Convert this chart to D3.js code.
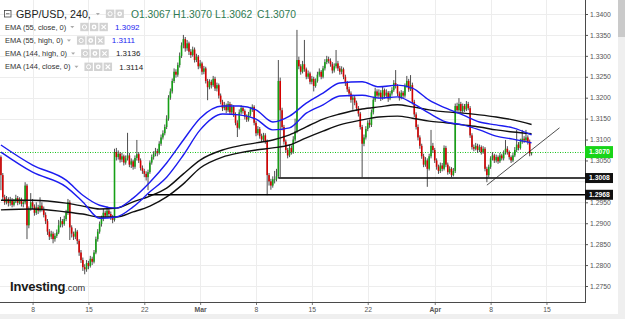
<!DOCTYPE html>
<html>
<head>
<meta charset="utf-8">
<script src="https://cdn.jsdelivr.net/npm/d3@7"></script>
<style>
  body { margin: 0; background: #fff; }
  svg { display: block; font-family: "Liberation Sans", Arial, sans-serif; }
</style>
</head>
<body>
<div class="chart"></div>
<script>
// GBP/USD 4h candles
const opens = [
  1.3058, 1.3015, 1.2962, 1.2950, 1.2958, 1.2948, 1.2955, 1.2944, 1.2952, 1.2960,
  1.2949, 1.2957, 1.2946, 1.2950, 1.2990, 1.2895, 1.2935, 1.2950, 1.2940, 1.2925,
  1.2938, 1.2930, 1.2942, 1.2934, 1.2920, 1.2905, 1.2880, 1.2868, 1.2875, 1.2862,
  1.2870, 1.2878, 1.2895, 1.2905, 1.2898, 1.2910, 1.2925, 1.2950, 1.2890, 1.2875,
  1.2868, 1.2880, 1.2858, 1.2830, 1.2812, 1.2795, 1.2790, 1.2805, 1.2798, 1.2815,
  1.2808, 1.2830, 1.2862, 1.2880, 1.2898, 1.2910, 1.2925, 1.2918, 1.2930, 1.2922,
  1.2915, 1.2908, 1.3070, 1.3058, 1.3066, 1.3052, 1.3060, 1.3045, 1.3055, 1.3062,
  1.3040, 1.3048, 1.3035, 1.3056, 1.3065, 1.3050, 1.3032, 1.3025, 1.3018, 1.3010,
  1.3022, 1.3045, 1.3058, 1.3066, 1.3072, 1.3068, 1.3090, 1.3105, 1.3115, 1.3130,
  1.3150, 1.3200, 1.3215, 1.3240, 1.3262, 1.3255, 1.3278, 1.3300, 1.3325, 1.3340,
  1.3318, 1.3330, 1.3310, 1.3302, 1.3315, 1.3290, 1.3298, 1.3275, 1.3282, 1.3262,
  1.3270, 1.3240, 1.3225, 1.3238, 1.3230, 1.3245, 1.3222, 1.3230, 1.3205, 1.3190,
  1.3175, 1.3182, 1.3170, 1.3185, 1.3165, 1.3178, 1.3160, 1.3140, 1.3128, 1.3165,
  1.3175, 1.3168, 1.3155, 1.3148, 1.3160, 1.3172, 1.3178, 1.3140, 1.3115, 1.3125,
  1.3108, 1.3100, 1.3110, 1.3095, 1.3015, 1.3000, 1.2990, 1.3005, 1.3005, 1.3012,
  1.3240, 1.3170, 1.3130, 1.3095, 1.3075, 1.3062, 1.3080, 1.3070, 1.3100, 1.3120,
  1.3290, 1.3275, 1.3262, 1.3280, 1.3268, 1.3250, 1.3258, 1.3238, 1.3245, 1.3228,
  1.3240, 1.3255, 1.3262, 1.3250, 1.3270, 1.3285, 1.3292, 1.3288, 1.3280, 1.3265,
  1.3275, 1.3282, 1.3270, 1.3262, 1.3268, 1.3250, 1.3235, 1.3220, 1.3210, 1.3195,
  1.3200, 1.3188, 1.3175, 1.3162, 1.3130, 1.3090, 1.3105, 1.3125, 1.3140, 1.3135,
  1.3165, 1.3195, 1.3215, 1.3205, 1.3212, 1.3200, 1.3218, 1.3205, 1.3212, 1.3198,
  1.3210, 1.3218, 1.3235, 1.3228, 1.3210, 1.3200, 1.3212, 1.3205, 1.3228, 1.3240,
  1.3220, 1.3230, 1.3190, 1.3160, 1.3130, 1.3105, 1.3085, 1.3060, 1.3040, 1.3050,
  1.3030, 1.3060, 1.3085, 1.3075, 1.3050, 1.3035, 1.3025, 1.3038, 1.3030, 1.3080,
  1.3040, 1.3022, 1.3030, 1.3015, 1.3025, 1.3180, 1.3170, 1.3185, 1.3168, 1.3180,
  1.3172, 1.3185, 1.3175, 1.3110, 1.3082, 1.3078, 1.3085, 1.3075, 1.3082, 1.3070,
  1.3078, 1.3030, 1.3015, 1.3035, 1.3055, 1.3062, 1.3050, 1.3058, 1.3048, 1.3062,
  1.3055, 1.3068, 1.3078, 1.3070, 1.3058, 1.3050, 1.3062, 1.3075, 1.3088, 1.3080,
  1.3095, 1.3102, 1.3098, 1.3105, 1.3095, 1.3067
];
const highs = [
  1.3062, 1.3020, 1.2968, 1.2965, 1.2962, 1.2963, 1.2960, 1.2958, 1.2968, 1.2965,
  1.2962, 1.2961, 1.2956, 1.2998, 1.2994, 1.2940, 1.2972, 1.2958, 1.2945, 1.2950,
  1.2944, 1.2962, 1.2950, 1.2940, 1.2926, 1.2910, 1.2886, 1.2882, 1.2880, 1.2876,
  1.2885, 1.2908, 1.2915, 1.2910, 1.2918, 1.2932, 1.2958, 1.2955, 1.2895, 1.2880,
  1.2888, 1.2884, 1.2862, 1.2836, 1.2818, 1.2802, 1.2812, 1.2810, 1.2822, 1.2820,
  1.2836, 1.2868, 1.2886, 1.2904, 1.2918, 1.2934, 1.2930, 1.2940, 1.2936, 1.2928,
  1.2920, 1.3078, 1.3080, 1.3074, 1.3070, 1.3068, 1.3064, 1.3062, 1.3116, 1.3068,
  1.3055, 1.3052, 1.3062, 1.3099, 1.3070, 1.3055, 1.3038, 1.3030, 1.3024, 1.3028,
  1.3050, 1.3064, 1.3072, 1.3080, 1.3078, 1.3096, 1.3112, 1.3122, 1.3136, 1.3158,
  1.3206, 1.3222, 1.3246, 1.3270, 1.3268, 1.3284, 1.3308, 1.3332, 1.3350, 1.3345,
  1.3338, 1.3334, 1.3316, 1.3322, 1.3320, 1.3305, 1.3302, 1.3290, 1.3286, 1.3276,
  1.3274, 1.3245, 1.3244, 1.3243, 1.3252, 1.3250, 1.3236, 1.3234, 1.3210, 1.3195,
  1.3190, 1.3186, 1.3192, 1.3190, 1.3185, 1.3182, 1.3165, 1.3146, 1.3172, 1.3182,
  1.3180, 1.3172, 1.3160, 1.3166, 1.3178, 1.3184, 1.3182, 1.3145, 1.3132, 1.3130,
  1.3114, 1.3116, 1.3115, 1.3100, 1.3020, 1.3006, 1.3012, 1.3025, 1.3030, 1.3290,
  1.3248, 1.3176, 1.3135, 1.3100, 1.3080, 1.3088, 1.3086, 1.3108, 1.3150, 1.3362,
  1.3298, 1.3280, 1.3288, 1.3338, 1.3272, 1.3265, 1.3262, 1.3252, 1.3250, 1.3246,
  1.3262, 1.3270, 1.3266, 1.3276, 1.3292, 1.3300, 1.3298, 1.3294, 1.3285, 1.3282,
  1.3314, 1.3288, 1.3276, 1.3275, 1.3272, 1.3255, 1.3240, 1.3226, 1.3215, 1.3207,
  1.3205, 1.3193, 1.3180, 1.3166, 1.3135, 1.3112, 1.3132, 1.3146, 1.3148, 1.3172,
  1.3202, 1.3224, 1.3220, 1.3220, 1.3218, 1.3226, 1.3222, 1.3220, 1.3216, 1.3216,
  1.3225, 1.3242, 1.3266, 1.3232, 1.3215, 1.3218, 1.3216, 1.3234, 1.3252, 1.3245,
  1.3254, 1.3236, 1.3195, 1.3165, 1.3136, 1.3110, 1.3090, 1.3066, 1.3058, 1.3055,
  1.3066, 1.3123, 1.3092, 1.3080, 1.3055, 1.3040, 1.3045, 1.3044, 1.3086, 1.3085,
  1.3045, 1.3036, 1.3034, 1.3032, 1.3186, 1.3188, 1.3199, 1.3190, 1.3186, 1.3185,
  1.3192, 1.3190, 1.3180, 1.3115, 1.3088, 1.3092, 1.3090, 1.3088, 1.3086, 1.3084,
  1.3082, 1.3035, 1.3040, 1.3060, 1.3070, 1.3066, 1.3064, 1.3062, 1.3068, 1.3066,
  1.3074, 1.3099, 1.3084, 1.3074, 1.3062, 1.3068, 1.3082, 1.3123, 1.3094, 1.3102,
  1.3123, 1.3108, 1.3123, 1.3110, 1.3100, 1.3070
];
const lows = [
  1.2979, 1.2955, 1.2944, 1.2945, 1.2940, 1.2942, 1.2938, 1.2940, 1.2948, 1.2943,
  1.2945, 1.2940, 1.2938, 1.2945, 1.2862, 1.2888, 1.2930, 1.2934, 1.2918, 1.2920,
  1.2922, 1.2926, 1.2928, 1.2914, 1.2898, 1.2872, 1.2860, 1.2862, 1.2852, 1.2856,
  1.2865, 1.2874, 1.2890, 1.2890, 1.2894, 1.2905, 1.2920, 1.2860, 1.2866, 1.2860,
  1.2862, 1.2850, 1.2822, 1.2805, 1.2786, 1.2778, 1.2784, 1.2790, 1.2794, 1.2800,
  1.2804, 1.2826, 1.2856, 1.2875, 1.2892, 1.2905, 1.2912, 1.2914, 1.2915, 1.2908,
  1.2900, 1.2904, 1.3050, 1.3052, 1.3045, 1.3046, 1.3038, 1.3040, 1.3050, 1.3034,
  1.3032, 1.3028, 1.3030, 1.3050, 1.3044, 1.3026, 1.3018, 1.3010, 1.3002, 1.2979,
  1.3018, 1.3040, 1.3052, 1.3060, 1.3060, 1.3064, 1.3085, 1.3100, 1.3110, 1.3125,
  1.3145, 1.3195, 1.3210, 1.3235, 1.3248, 1.3250, 1.3272, 1.3295, 1.3318, 1.3310,
  1.3312, 1.3302, 1.3295, 1.3298, 1.3284, 1.3285, 1.3268, 1.3270, 1.3255, 1.3256,
  1.3234, 1.3194, 1.3220, 1.3222, 1.3226, 1.3216, 1.3215, 1.3198, 1.3184, 1.3168,
  1.3170, 1.3163, 1.3166, 1.3160, 1.3160, 1.3154, 1.3134, 1.3106, 1.3124, 1.3160,
  1.3162, 1.3148, 1.3142, 1.3143, 1.3155, 1.3166, 1.3134, 1.3108, 1.3110, 1.3102,
  1.3094, 1.3096, 1.3090, 1.2967, 1.2990, 1.2980, 1.2985, 1.2995, 1.3000, 1.3008,
  1.3010, 1.3122, 1.3088, 1.3068, 1.3055, 1.3058, 1.3064, 1.3066, 1.3095, 1.3115,
  1.3268, 1.3255, 1.3258, 1.3262, 1.3244, 1.3245, 1.3232, 1.3232, 1.3215, 1.3224,
  1.3236, 1.3250, 1.3244, 1.3246, 1.3265, 1.3280, 1.3282, 1.3274, 1.3258, 1.3260,
  1.3270, 1.3264, 1.3255, 1.3256, 1.3244, 1.3228, 1.3214, 1.3203, 1.3188, 1.3171,
  1.3182, 1.3168, 1.3155, 1.3124, 1.3010, 1.3084, 1.3100, 1.3120, 1.3128, 1.3130,
  1.3160, 1.3190, 1.3198, 1.3198, 1.3192, 1.3195, 1.3198, 1.3200, 1.3190, 1.3194,
  1.3205, 1.3214, 1.3222, 1.3204, 1.3193, 1.3196, 1.3198, 1.3200, 1.3224, 1.3214,
  1.3216, 1.3184, 1.3154, 1.3124, 1.3098, 1.3078, 1.3054, 1.3034, 1.3035, 1.2987,
  1.3026, 1.3055, 1.3068, 1.3044, 1.3028, 1.3018, 1.3020, 1.3024, 1.3026, 1.3034,
  1.3016, 1.3018, 1.3010, 1.3012, 1.3020, 1.3164, 1.3166, 1.3162, 1.3164, 1.3166,
  1.3168, 1.3170, 1.3104, 1.3076, 1.3072, 1.3074, 1.3068, 1.3070, 1.3064, 1.3066,
  1.3024, 1.2998, 1.3010, 1.3030, 1.3050, 1.3044, 1.3045, 1.3042, 1.3044, 1.3050,
  1.3050, 1.3064, 1.3064, 1.3052, 1.3044, 1.3046, 1.3058, 1.3070, 1.3074, 1.3076,
  1.3090, 1.3092, 1.3094, 1.3088, 1.3060, 1.3062
];
const closes = [
  1.3015, 1.2962, 1.2950, 1.2958, 1.2948, 1.2955, 1.2944, 1.2952, 1.2960, 1.2949,
  1.2957, 1.2946, 1.2950, 1.2990, 1.2895, 1.2935, 1.2950, 1.2940, 1.2925, 1.2938,
  1.2930, 1.2942, 1.2934, 1.2920, 1.2905, 1.2880, 1.2868, 1.2875, 1.2862, 1.2870,
  1.2878, 1.2895, 1.2905, 1.2898, 1.2910, 1.2925, 1.2950, 1.2890, 1.2875, 1.2868,
  1.2880, 1.2858, 1.2830, 1.2812, 1.2795, 1.2790, 1.2805, 1.2798, 1.2815, 1.2808,
  1.2830, 1.2862, 1.2880, 1.2898, 1.2910, 1.2925, 1.2918, 1.2930, 1.2922, 1.2915,
  1.2908, 1.3070, 1.3058, 1.3066, 1.3052, 1.3060, 1.3045, 1.3055, 1.3062, 1.3040,
  1.3048, 1.3035, 1.3056, 1.3065, 1.3050, 1.3032, 1.3025, 1.3018, 1.3010, 1.3022,
  1.3045, 1.3058, 1.3066, 1.3072, 1.3068, 1.3090, 1.3105, 1.3115, 1.3130, 1.3150,
  1.3200, 1.3215, 1.3240, 1.3262, 1.3255, 1.3278, 1.3300, 1.3325, 1.3340, 1.3318,
  1.3330, 1.3310, 1.3302, 1.3315, 1.3290, 1.3298, 1.3275, 1.3282, 1.3262, 1.3270,
  1.3240, 1.3225, 1.3238, 1.3230, 1.3245, 1.3222, 1.3230, 1.3205, 1.3190, 1.3175,
  1.3182, 1.3170, 1.3185, 1.3165, 1.3178, 1.3160, 1.3140, 1.3128, 1.3165, 1.3175,
  1.3168, 1.3155, 1.3148, 1.3160, 1.3172, 1.3178, 1.3140, 1.3115, 1.3125, 1.3108,
  1.3100, 1.3110, 1.3095, 1.3015, 1.3000, 1.2990, 1.3005, 1.3005, 1.3012, 1.3240,
  1.3170, 1.3130, 1.3095, 1.3075, 1.3062, 1.3080, 1.3070, 1.3100, 1.3120, 1.3290,
  1.3275, 1.3262, 1.3280, 1.3268, 1.3250, 1.3258, 1.3238, 1.3245, 1.3228, 1.3240,
  1.3255, 1.3262, 1.3250, 1.3270, 1.3285, 1.3292, 1.3288, 1.3280, 1.3265, 1.3275,
  1.3282, 1.3270, 1.3262, 1.3268, 1.3250, 1.3235, 1.3220, 1.3210, 1.3195, 1.3200,
  1.3188, 1.3175, 1.3162, 1.3130, 1.3090, 1.3105, 1.3125, 1.3140, 1.3135, 1.3165,
  1.3195, 1.3215, 1.3205, 1.3212, 1.3200, 1.3218, 1.3205, 1.3212, 1.3198, 1.3210,
  1.3218, 1.3235, 1.3228, 1.3210, 1.3200, 1.3212, 1.3205, 1.3228, 1.3240, 1.3220,
  1.3230, 1.3190, 1.3160, 1.3130, 1.3105, 1.3085, 1.3060, 1.3040, 1.3050, 1.3030,
  1.3060, 1.3085, 1.3075, 1.3050, 1.3035, 1.3025, 1.3038, 1.3030, 1.3080, 1.3040,
  1.3022, 1.3030, 1.3015, 1.3025, 1.3180, 1.3170, 1.3185, 1.3168, 1.3180, 1.3172,
  1.3185, 1.3175, 1.3110, 1.3082, 1.3078, 1.3085, 1.3075, 1.3082, 1.3070, 1.3078,
  1.3030, 1.3015, 1.3035, 1.3055, 1.3062, 1.3050, 1.3058, 1.3048, 1.3062, 1.3055,
  1.3068, 1.3078, 1.3070, 1.3058, 1.3050, 1.3062, 1.3075, 1.3088, 1.3080, 1.3095,
  1.3102, 1.3098, 1.3105, 1.3095, 1.3067, 1.3070
];

// moving averages, sampled along the bar index
const emaIdx      = [0, 17, 35, 44, 53, 62, 71, 80, 89, 98, 107, 119, 128, 137, 146, 155, 164, 173, 182, 194, 203, 213, 221, 230, 239, 248, 257, 266, 275, 285];
const ema55Close  = [1.3070, 1.3022, 1.2987, 1.2951, 1.2912, 1.2915, 1.2939, 1.2975, 1.3010, 1.3063, 1.3123, 1.3161, 1.3159, 1.3149, 1.3123, 1.3128, 1.3163, 1.3183, 1.3204, 1.3206, 1.3199, 1.3202, 1.3187, 1.3163, 1.3142, 1.3135, 1.3123, 1.3108, 1.3101, 1.3092];
const ema55High   = [1.3087, 1.3039, 1.3003, 1.2967, 1.2943, 1.2936, 1.2960, 1.2998, 1.3044, 1.3099, 1.3151, 1.3180, 1.3180, 1.3171, 1.3142, 1.3156, 1.3187, 1.3211, 1.3235, 1.3238, 1.3226, 1.3230, 1.3223, 1.3194, 1.3175, 1.3159, 1.3142, 1.3135, 1.3128, 1.3111];
const ema144High  = [1.2955, 1.2955, 1.2948, 1.2941, 1.2934, 1.2936, 1.2951, 1.2965, 1.2984, 1.3018, 1.3051, 1.3075, 1.3085, 1.3092, 1.3099, 1.3111, 1.3130, 1.3149, 1.3161, 1.3173, 1.3178, 1.3183, 1.3178, 1.3171, 1.3166, 1.3163, 1.3159, 1.3154, 1.3147, 1.3136];
const ema144Close = [1.2932, 1.2934, 1.2927, 1.2922, 1.2915, 1.2915, 1.2927, 1.2941, 1.2963, 1.2994, 1.3032, 1.3058, 1.3068, 1.3075, 1.3080, 1.3087, 1.3104, 1.3120, 1.3135, 1.3147, 1.3154, 1.3156, 1.3151, 1.3144, 1.3140, 1.3135, 1.3130, 1.3123, 1.3118, 1.3114];

const yTicks = [1.2750, 1.2800, 1.2850, 1.2900, 1.2950, 1.3000, 1.3050, 1.3100, 1.3150, 1.3200, 1.3250, 1.3300, 1.3350, 1.3400];
const xTickIdx = [17, 47, 77, 107, 137, 167, 197, 233, 263, 293];
const xTickLabels = ["8", "15", "22", "Mar", "8", "15", "22", "Apr", "8", "15"];

const supportLevels = [1.3008, 1.2968];
const supportStart = [149, 79];
const trendIdx = [261, 300];
const trendVal = [1.2991, 1.3128];
const lastPrice = 1.3070;

const legendNames = ["EMA (55, close, 0)", "EMA (55, high, 0)", "EMA (144, high, 0)", "EMA (144, close, 0)"];
const legendValues = ["1.3092", "1.3111", "1.3136", "1.3114"];
const ohlcLabels = ["O1.3067", "H1.3070", "L1.3062", "C1.3070"];

const width = 625, height = 319;
const plotW = 585, plotH = 302;
const blue = "#1c1cf0";

const svg = d3.select(".chart").append("svg")
  .attr("width", width)
  .attr("height", height);

const x = d3.scaleLinear().domain([-0.5, 313.7]).range([0, plotW]);
const y = d3.scaleLinear().domain([1.2750, 1.3400]).range([286, 14]);

svg.append("defs").append("clipPath").attr("id", "clip")
  .append("rect").attr("width", plotW).attr("height", plotH);

// grid
const grid = svg.append("g").attr("stroke", "#ededed").attr("stroke-width", 1);
grid.selectAll(".gh").data(yTicks).enter().append("line")
  .attr("x1", 0).attr("x2", plotW)
  .attr("y1", d => Math.round(y(d)) + 0.5).attr("y2", d => Math.round(y(d)) + 0.5);
grid.selectAll(".gv").data(xTickIdx).enter().append("line")
  .attr("y1", 0).attr("y2", plotH)
  .attr("x1", d => Math.round(x(d)) + 0.5).attr("x2", d => Math.round(x(d)) + 0.5);

const plot = svg.append("g").attr("clip-path", "url(#clip)");

// last price dotted line
plot.append("line")
  .attr("x1", 0).attr("x2", plotW)
  .attr("y1", Math.round(y(lastPrice)) + 0.5).attr("y2", Math.round(y(lastPrice)) + 0.5)
  .attr("stroke", "#19c319").attr("stroke-dasharray", "1,1.5");

// candles
const bars = plot.append("g").selectAll("g.bar")
  .data(d3.range(closes.length))
  .enter().append("g").attr("class", "bar");

bars.append("line")
  .attr("x1", i => x(i)).attr("x2", i => x(i))
  .attr("y1", i => y(highs[i])).attr("y2", i => y(lows[i]))
  .attr("stroke", "#3a3a3a").attr("stroke-width", 0.9);

bars.append("rect")
  .attr("x", i => x(i) - 0.8)
  .attr("width", 1.6)
  .attr("y", i => y(Math.max(opens[i], closes[i])))
  .attr("height", i => Math.max(0.8, Math.abs(y(opens[i]) - y(closes[i]))))
  .attr("fill", i => closes[i] >= opens[i] ? "#16a016" : "#d40000");

// EMA lines
const emaLine = d3.line()
  .x((d, i) => x(emaIdx[i]))
  .y(d => y(d))
  .curve(d3.curveMonotoneX);

[[ema144High, "#111"], [ema144Close, "#111"], [ema55High, blue], [ema55Close, blue]].forEach(([s, c]) => {
  plot.append("path").datum(s)
    .attr("d", emaLine)
    .attr("fill", "none")
    .attr("stroke", c)
    .attr("stroke-width", 1.4);
});

// support lines
plot.selectAll(".support").data(supportLevels).enter().append("line")
  .attr("x1", (d, i) => x(supportStart[i])).attr("x2", plotW)
  .attr("y1", d => y(d)).attr("y2", d => y(d))
  .attr("stroke", "#000").attr("stroke-width", 1.6);

// trend line
plot.append("line")
  .attr("x1", x(trendIdx[0])).attr("y1", y(trendVal[0]))
  .attr("x2", x(trendIdx[1])).attr("y2", y(trendVal[1]))
  .attr("stroke", "#222").attr("stroke-width", 0.8);

// axes
const yAxis = d3.axisRight(y)
  .tickValues(yTicks)
  .tickFormat(d3.format(".4f"))
  .tickSize(3)
  .tickPadding(2);

const gy = svg.append("g")
  .attr("transform", `translate(${plotW},0)`)
  .call(yAxis)
  .attr("font-size", 6.8)
  .attr("font-family", "Liberation Sans, Arial, sans-serif");
gy.select(".domain").remove();
gy.selectAll(".tick line").attr("stroke", "#555");
gy.selectAll(".tick text").attr("fill", "#555");
// the tick label that sits fully under a price tag is not visible in the chart
gy.selectAll(".tick text")
  .filter(d => supportLevels.some(v => Math.abs(y(v) - y(d)) < 5))
  .remove();

const xAxis = d3.axisBottom(x)
  .tickValues(xTickIdx)
  .tickFormat((d, i) => xTickLabels[i])
  .tickSize(3)
  .tickPadding(2);

const gx = svg.append("g")
  .attr("transform", `translate(0,${plotH})`)
  .call(xAxis)
  .attr("font-size", 6.8)
  .attr("font-family", "Liberation Sans, Arial, sans-serif");
gx.select(".domain").remove();
gx.selectAll(".tick line").attr("stroke", "#777");
gx.selectAll(".tick text")
  .attr("fill", "#555")
  .attr("font-weight", (d, i) => isNaN(+xTickLabels[i]) ? "bold" : "normal");

svg.append("line")
  .attr("x1", plotW + 0.5).attr("x2", plotW + 0.5)
  .attr("y1", 0).attr("y2", plotH + 1)
  .attr("stroke", "#4a4a4a");
svg.append("line")
  .attr("x1", 0).attr("x2", plotW + 1)
  .attr("y1", plotH + 0.5).attr("y2", plotH + 0.5)
  .attr("stroke", "#4a4a4a");

// price tags on the axis
const tags = [{ v: lastPrice, fill: "#18d418", h: 12 }]
  .concat(supportLevels.map(v => ({ v: v, fill: "#111", h: 10 })));
const tag = svg.selectAll(".tag").data(tags).enter().append("g");
tag.append("rect")
  .attr("x", plotW).attr("width", 28)
  .attr("y", d => y(d.v) - d.h / 2).attr("height", d => d.h)
  .attr("fill", d => d.fill);
tag.append("text")
  .attr("x", plotW + 4).attr("y", d => y(d.v) + 2.4)
  .attr("fill", "#fff").attr("font-size", 6.8).attr("font-weight", "bold")
  .text(d => d.v.toFixed(4));

// right scroller and bottom toolbar
svg.append("rect").attr("x", 618).attr("y", 0).attr("width", 7).attr("height", height).attr("fill", "#efefef");
svg.append("rect").attr("x", 618).attr("y", 0).attr("width", 7).attr("height", 37).attr("fill", "#cacaca");
svg.append("rect").attr("x", 0).attr("y", 314).attr("width", 618).attr("height", 5).attr("fill", "#efefef");

// legend
const legend = svg.append("g").attr("font-family", "Liberation Sans, Arial, sans-serif");

function iconBoxes(g, x0, yc, kinds) {
  kinds.forEach((k, j) => {
    const bx = x0 + j * 9.6;
    g.append("rect").attr("x", bx).attr("y", yc - 4.2).attr("width", 8.4).attr("height", 8.4).attr("fill", "#d2d2d2");
    if (k === "eye") {
      g.append("circle").attr("cx", bx + 4.2).attr("cy", yc).attr("r", 2.1).attr("fill", "none").attr("stroke", "#fff").attr("stroke-width", 1);
    } else if (k === "gear") {
      g.append("circle").attr("cx", bx + 4.2).attr("cy", yc).attr("r", 2.4).attr("fill", "#fff");
      g.append("circle").attr("cx", bx + 4.2).attr("cy", yc).attr("r", 1).attr("fill", "#d2d2d2");
    } else {
      g.append("path").attr("d", `M${bx + 2},${yc - 2.2}L${bx + 6.4},${yc + 2.2}M${bx + 6.4},${yc - 2.2}L${bx + 2},${yc + 2.2}`)
        .attr("stroke", "#fff").attr("stroke-width", 1.2);
    }
  });
}
function arrow(g, ax, yc) {
  g.append("path").attr("d", `M${ax},${yc - 1}l4,0l-2,2.2z`).attr("fill", "#aaa");
}

// header row
legend.append("rect").attr("x", 4.5).attr("y", 10.5).attr("width", 6.5).attr("height", 6.5)
  .attr("fill", "none").attr("stroke", "#444").attr("stroke-width", 0.8);
legend.append("line").attr("x1", 6).attr("x2", 9.5).attr("y1", 13.75).attr("y2", 13.75).attr("stroke", "#444").attr("stroke-width", 0.8);
const title = legend.append("text").attr("x", 16).attr("y", 17.8)
  .attr("font-size", 10.7).attr("fill", "#222").text("GBP/USD, 240,");
const tEnd = 16 + title.node().getComputedTextLength();
arrow(legend, tEnd + 5, 14);
iconBoxes(legend, tEnd + 15, 13.8, ["eye", "gear"]);
const ohlcX = [131, 173, 215, 257];
ohlcLabels.forEach((s, i) => {
  legend.append("text").attr("x", ohlcX[i]).attr("y", 17.8)
    .attr("font-size", 10.3).attr("fill", "#2f7a52").text(s);
});

// EMA rows
const rowY = [27, 40.5, 53.5, 66.8];
const valueColors = [blue, blue, "#222", "#222"];
legendNames.forEach((name, i) => {
  const t = legend.append("text").attr("x", 5).attr("y", rowY[i] + 2.6)
    .attr("font-size", 7.5).attr("fill", "#333").text(name);
  const end = 5 + t.node().getComputedTextLength();
  arrow(legend, end + 4, rowY[i]);
  iconBoxes(legend, end + 14, rowY[i], ["eye", "gear", "x"]);
  legend.append("text").attr("x", end + 14 + 3 * 9.6 + 6).attr("y", rowY[i] + 2.8)
    .attr("font-size", 8).attr("fill", valueColors[i]).text(legendValues[i]);
});

// logo
const logo = svg.append("text").attr("x", 10).attr("y", 290.5).attr("font-family", "Liberation Sans, Arial, sans-serif");
logo.append("tspan").attr("font-size", 13).attr("font-weight", "bold").attr("fill", "#1a1a1a").attr("letter-spacing", -0.2).text("Investing");
logo.append("tspan").attr("font-size", 9.2).attr("fill", "#333").text(".com");
</script>
</body>
</html>
